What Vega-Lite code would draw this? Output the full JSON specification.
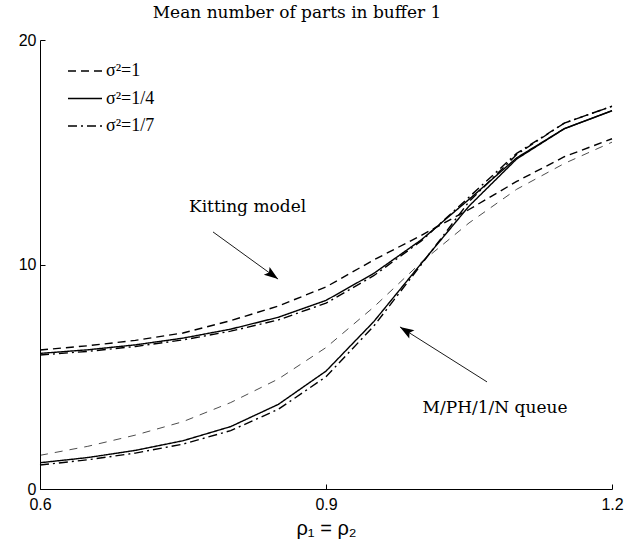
{
  "$schema": "https://vega.github.io/schema/vega-lite/v6.json",
  "width": 572,
  "height": 449,
  "autosize": {"type": "none"},
  "padding": {"left": 40, "top": 40, "right": 15, "bottom": 59},
  "background": "white",
  "title": {"text": "Mean number of parts in buffer 1", "font": "DejaVu Serif", "fontSize": 17, "fontWeight": "normal", "color": "black", "anchor": "middle", "dx": -29, "offset": 10},
  "config": {
    "view": {"stroke": null},
    "axis": {"grid": false, "domainColor": "black", "tickColor": "black", "labelColor": "black", "labelFont": "Liberation Sans", "labelFontSize": 16, "titleColor": "black", "titleFont": "Liberation Sans", "titleFontSize": 20, "titleFontWeight": "normal", "tickSize": -5, "domainWidth": 1, "tickWidth": 1}
  },
  "datasets": {
    "curves": [
      {"x": 0.6, "y": 6.19, "model": "Kitting", "s2": "σ²=1"},
      {"x": 0.65, "y": 6.38, "model": "Kitting", "s2": "σ²=1"},
      {"x": 0.7, "y": 6.62, "model": "Kitting", "s2": "σ²=1"},
      {"x": 0.75, "y": 6.95, "model": "Kitting", "s2": "σ²=1"},
      {"x": 0.8, "y": 7.5, "model": "Kitting", "s2": "σ²=1"},
      {"x": 0.85, "y": 8.15, "model": "Kitting", "s2": "σ²=1"},
      {"x": 0.9, "y": 9.0, "model": "Kitting", "s2": "σ²=1"},
      {"x": 0.95, "y": 10.2, "model": "Kitting", "s2": "σ²=1"},
      {"x": 1.0, "y": 11.3, "model": "Kitting", "s2": "σ²=1"},
      {"x": 1.05, "y": 12.45, "model": "Kitting", "s2": "σ²=1"},
      {"x": 1.1, "y": 13.7, "model": "Kitting", "s2": "σ²=1"},
      {"x": 1.15, "y": 14.8, "model": "Kitting", "s2": "σ²=1"},
      {"x": 1.2, "y": 15.6, "model": "Kitting", "s2": "σ²=1"},
      {"x": 0.6, "y": 6.04, "model": "Kitting", "s2": "σ²=1/4"},
      {"x": 0.65, "y": 6.2, "model": "Kitting", "s2": "σ²=1/4"},
      {"x": 0.7, "y": 6.42, "model": "Kitting", "s2": "σ²=1/4"},
      {"x": 0.75, "y": 6.72, "model": "Kitting", "s2": "σ²=1/4"},
      {"x": 0.8, "y": 7.12, "model": "Kitting", "s2": "σ²=1/4"},
      {"x": 0.85, "y": 7.65, "model": "Kitting", "s2": "σ²=1/4"},
      {"x": 0.9, "y": 8.4, "model": "Kitting", "s2": "σ²=1/4"},
      {"x": 0.95, "y": 9.6, "model": "Kitting", "s2": "σ²=1/4"},
      {"x": 1.0, "y": 11.1, "model": "Kitting", "s2": "σ²=1/4"},
      {"x": 1.05, "y": 12.9, "model": "Kitting", "s2": "σ²=1/4"},
      {"x": 1.1, "y": 14.75, "model": "Kitting", "s2": "σ²=1/4"},
      {"x": 1.15, "y": 16.05, "model": "Kitting", "s2": "σ²=1/4"},
      {"x": 1.2, "y": 16.85, "model": "Kitting", "s2": "σ²=1/4"},
      {"x": 0.6, "y": 5.97, "model": "Kitting", "s2": "σ²=1/7"},
      {"x": 0.65, "y": 6.13, "model": "Kitting", "s2": "σ²=1/7"},
      {"x": 0.7, "y": 6.35, "model": "Kitting", "s2": "σ²=1/7"},
      {"x": 0.75, "y": 6.64, "model": "Kitting", "s2": "σ²=1/7"},
      {"x": 0.8, "y": 7.03, "model": "Kitting", "s2": "σ²=1/7"},
      {"x": 0.85, "y": 7.53, "model": "Kitting", "s2": "σ²=1/7"},
      {"x": 0.9, "y": 8.28, "model": "Kitting", "s2": "σ²=1/7"},
      {"x": 0.95, "y": 9.5, "model": "Kitting", "s2": "σ²=1/7"},
      {"x": 1.0, "y": 11.05, "model": "Kitting", "s2": "σ²=1/7"},
      {"x": 1.05, "y": 13.0, "model": "Kitting", "s2": "σ²=1/7"},
      {"x": 1.1, "y": 14.95, "model": "Kitting", "s2": "σ²=1/7"},
      {"x": 1.15, "y": 16.3, "model": "Kitting", "s2": "σ²=1/7"},
      {"x": 1.2, "y": 17.05, "model": "Kitting", "s2": "σ²=1/7"},
      {"x": 0.6, "y": 1.5, "model": "MPH", "s2": "σ²=1"},
      {"x": 0.65, "y": 1.9, "model": "MPH", "s2": "σ²=1"},
      {"x": 0.7, "y": 2.4, "model": "MPH", "s2": "σ²=1"},
      {"x": 0.75, "y": 3.0, "model": "MPH", "s2": "σ²=1"},
      {"x": 0.8, "y": 3.85, "model": "MPH", "s2": "σ²=1"},
      {"x": 0.85, "y": 4.9, "model": "MPH", "s2": "σ²=1"},
      {"x": 0.9, "y": 6.3, "model": "MPH", "s2": "σ²=1"},
      {"x": 0.95, "y": 8.1, "model": "MPH", "s2": "σ²=1"},
      {"x": 1.0, "y": 10.1, "model": "MPH", "s2": "σ²=1"},
      {"x": 1.05, "y": 11.85, "model": "MPH", "s2": "σ²=1"},
      {"x": 1.1, "y": 13.35, "model": "MPH", "s2": "σ²=1"},
      {"x": 1.15, "y": 14.5, "model": "MPH", "s2": "σ²=1"},
      {"x": 1.2, "y": 15.45, "model": "MPH", "s2": "σ²=1"},
      {"x": 0.6, "y": 1.17, "model": "MPH", "s2": "σ²=1/4"},
      {"x": 0.65, "y": 1.4, "model": "MPH", "s2": "σ²=1/4"},
      {"x": 0.7, "y": 1.72, "model": "MPH", "s2": "σ²=1/4"},
      {"x": 0.75, "y": 2.15, "model": "MPH", "s2": "σ²=1/4"},
      {"x": 0.8, "y": 2.78, "model": "MPH", "s2": "σ²=1/4"},
      {"x": 0.85, "y": 3.77, "model": "MPH", "s2": "σ²=1/4"},
      {"x": 0.9, "y": 5.25, "model": "MPH", "s2": "σ²=1/4"},
      {"x": 0.95, "y": 7.45, "model": "MPH", "s2": "σ²=1/4"},
      {"x": 1.0, "y": 10.05, "model": "MPH", "s2": "σ²=1/4"},
      {"x": 1.05, "y": 12.6, "model": "MPH", "s2": "σ²=1/4"},
      {"x": 1.1, "y": 14.7, "model": "MPH", "s2": "σ²=1/4"},
      {"x": 1.15, "y": 16.05, "model": "MPH", "s2": "σ²=1/4"},
      {"x": 1.2, "y": 16.85, "model": "MPH", "s2": "σ²=1/4"},
      {"x": 0.6, "y": 1.07, "model": "MPH", "s2": "σ²=1/7"},
      {"x": 0.65, "y": 1.3, "model": "MPH", "s2": "σ²=1/7"},
      {"x": 0.7, "y": 1.6, "model": "MPH", "s2": "σ²=1/7"},
      {"x": 0.75, "y": 2.0, "model": "MPH", "s2": "σ²=1/7"},
      {"x": 0.8, "y": 2.6, "model": "MPH", "s2": "σ²=1/7"},
      {"x": 0.85, "y": 3.55, "model": "MPH", "s2": "σ²=1/7"},
      {"x": 0.9, "y": 5.0, "model": "MPH", "s2": "σ²=1/7"},
      {"x": 0.95, "y": 7.25, "model": "MPH", "s2": "σ²=1/7"},
      {"x": 1.0, "y": 10.0, "model": "MPH", "s2": "σ²=1/7"},
      {"x": 1.05, "y": 12.8, "model": "MPH", "s2": "σ²=1/7"},
      {"x": 1.1, "y": 14.9, "model": "MPH", "s2": "σ²=1/7"},
      {"x": 1.15, "y": 16.3, "model": "MPH", "s2": "σ²=1/7"},
      {"x": 1.2, "y": 17.05, "model": "MPH", "s2": "σ²=1/7"}
    ]
  },
  "layer": [
    {
      "data": {"name": "curves"},
      "mark": {"type": "line", "color": "black", "strokeCap": "butt"},
      "encoding": {
        "x": {"field": "x", "type": "quantitative", "scale": {"domain": [0.6, 1.2], "nice": false, "zero": false}, "axis": {"values": [0.6, 0.9, 1.2], "format": ".1f", "title": "ρ₁ = ρ₂", "labelPadding": 12, "labelFlush": false, "titlePadding": 6}},
        "y": {"field": "y", "type": "quantitative", "scale": {"domain": [0, 20], "nice": false}, "axis": {"values": [0, 10, 20], "title": null, "labelPadding": 9}},
        "detail": {"field": "model"},
        "strokeDash": {
          "field": "s2", "type": "nominal",
          "scale": {"domain": ["σ²=1", "σ²=1/4", "σ²=1/7"], "range": [[8, 5], [1, 0], [9, 4, 2, 4]]},
          "condition": {"test": "datum.model === 'MPH' && datum.s2 === 'σ²=1'", "value": [8, 7]},
          "legend": {"title": null, "orient": "none", "legendX": 27, "legendY": 13, "padding": 0, "symbolSize": 1156, "symbolStrokeWidth": 1.5, "symbolStrokeColor": "black", "labelFont": "Liberation Serif", "labelFontSize": 18, "labelColor": "black", "labelOffset": 3, "rowPadding": 0.5}
        },
        "strokeWidth": {"condition": {"test": "datum.model === 'MPH' && datum.s2 === 'σ²=1'", "value": 0.7}, "value": 1.4}
      }
    },
    {
      "data": {"values": [
        {"x": 0.7815, "y": 11.45, "x2": 0.8497, "y2": 9.35},
        {"x": 1.0689, "y": 4.77, "x2": 0.9776, "y2": 7.22}
      ]},
      "mark": {"type": "rule", "color": "black", "strokeWidth": 0.9},
      "encoding": {"x": {"field": "x", "type": "quantitative"}, "y": {"field": "y", "type": "quantitative"}, "x2": {"field": "x2"}, "y2": {"field": "y2"}}
    },
    {
      "data": {"values": [{"x": 0.8497, "y": 9.35}]},
      "mark": {"type": "point", "shape": "M0,0 L0.7,2 L0,1.6 L-0.7,2 Z", "filled": true, "color": "black", "opacity": 1, "size": 196, "angle": 126},
      "encoding": {"x": {"field": "x", "type": "quantitative"}, "y": {"field": "y", "type": "quantitative"}}
    },
    {
      "data": {"values": [{"x": 0.9776, "y": 7.22}]},
      "mark": {"type": "point", "shape": "M0,0 L0.7,2 L0,1.6 L-0.7,2 Z", "filled": true, "color": "black", "opacity": 1, "size": 196, "angle": 302},
      "encoding": {"x": {"field": "x", "type": "quantitative"}, "y": {"field": "y", "type": "quantitative"}}
    },
    {
      "data": {"values": [
        {"x": 0.8177, "y": 12.58, "label": "Kitting model"},
        {"x": 1.0773, "y": 3.61, "label": "M/PH/1/N queue"}
      ]},
      "mark": {"type": "text", "font": "DejaVu Serif", "fontSize": 17, "color": "black", "align": "center", "baseline": "middle"},
      "encoding": {"x": {"field": "x", "type": "quantitative"}, "y": {"field": "y", "type": "quantitative"}, "text": {"field": "label"}}
    }
  ]
}
